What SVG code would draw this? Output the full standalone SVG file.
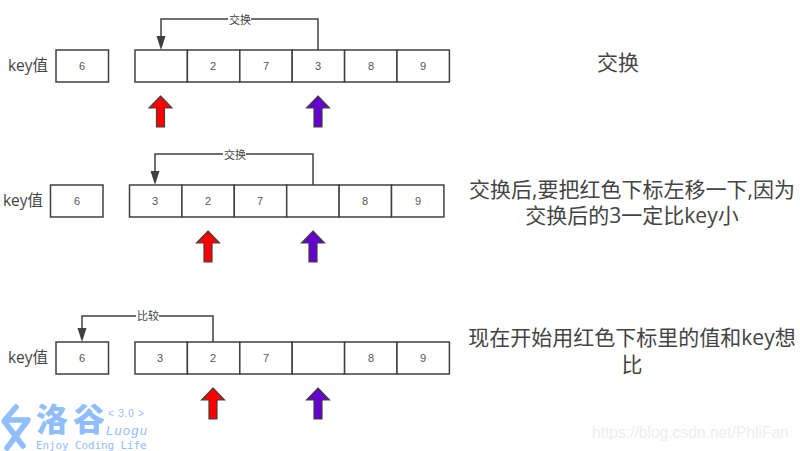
<svg xmlns="http://www.w3.org/2000/svg" width="800" height="451" viewBox="0 0 800 451">
<defs>
<style>
.cell{fill:#fff;stroke:#404040;stroke-width:1.5}
.d{font-family:"Liberation Sans","Noto Sans CJK SC",sans-serif;font-size:11px;fill:#555;text-anchor:middle}
.k{font-family:"Open Sans","Noto Sans CJK SC",sans-serif;font-size:15.500px;fill:#444;text-anchor:middle}
.cap{font-family:"Open Sans","Noto Sans CJK SC",sans-serif;font-size:21px;fill:#444;text-anchor:middle}
.lab{font-family:"Noto Sans CJK SC",sans-serif;font-size:11px;fill:#444;text-anchor:middle}
.con{fill:none;stroke:#404040;stroke-width:1.5}
.up{stroke:#404040;stroke-width:1.2}
.lt{font-family:"DejaVu Sans Mono",monospace;fill:#90bdfb}
</style>
<path id="arrow" d="M0 0L11.500 12L4 12L4 31L-4 31L-4 12L-11.500 12Z"/>
</defs>
<rect width="800" height="451" fill="#fff"/>
<g id="connectors">
<path class="con" d="M318 50V19H161V38"/><path d="M156.500 36H165.500L161 50Z" fill="#404040"/>
<path class="con" d="M313 185V154H155V173"/><path d="M150.500 171H159.500L155 185Z" fill="#404040"/>
<path class="con" d="M213 342V316H82V330"/><path d="M77.500 328H86.500L82 342Z" fill="#404040"/>
</g>
<g id="label-swap-1"><rect x="228" y="13" width="23" height="13" fill="#fff"/><text class="lab" x="240" y="24">交换</text></g>
<g id="label-swap-2"><rect x="223" y="148" width="23" height="13" fill="#fff"/><text class="lab" x="235" y="159">交换</text></g>
<g id="label-compare"><rect x="136" y="310" width="23" height="13" fill="#fff"/><text class="lab" x="148" y="320">比较</text></g>

<g id="row1">
<text class="k" x="28" y="71">key值</text>
<g id="r1-key"><rect class="cell" x="56" y="50" width="52.500" height="32"/><text class="d" x="82" y="70">6</text></g>
<g id="r1-c1"><rect class="cell" x="135" y="50" width="52.400" height="32"/></g>
<g id="r1-c2"><rect class="cell" x="187.400" y="50" width="52.400" height="32"/><text class="d" x="213" y="70">2</text></g>
<g id="r1-c3"><rect class="cell" x="239.800" y="50" width="52.400" height="32"/><text class="d" x="266" y="70">7</text></g>
<g id="r1-c4"><rect class="cell" x="292.200" y="50" width="52.400" height="32"/><text class="d" x="318" y="70">3</text></g>
<g id="r1-c5"><rect class="cell" x="344.600" y="50" width="52.400" height="32"/><text class="d" x="371" y="70">8</text></g>
<g id="r1-c6"><rect class="cell" x="397" y="50" width="52.400" height="32"/><text class="d" x="423" y="70">9</text></g>
<use class="up" href="#arrow" x="160.500" y="96" fill="#ff0000"/>
<use class="up" href="#arrow" x="318" y="96" fill="#6600cc"/>
</g>

<g id="row2">
<text class="k" x="23" y="206">key值</text>
<g id="r2-key"><rect class="cell" x="50.500" y="185" width="52.500" height="32"/><text class="d" x="77" y="205">6</text></g>
<g id="r2-c1"><rect class="cell" x="129.500" y="185" width="52.400" height="32"/><text class="d" x="155" y="205">3</text></g>
<g id="r2-c2"><rect class="cell" x="181.900" y="185" width="52.400" height="32"/><text class="d" x="208" y="205">2</text></g>
<g id="r2-c3"><rect class="cell" x="234.300" y="185" width="52.400" height="32"/><text class="d" x="260" y="205">7</text></g>
<g id="r2-c4"><rect class="cell" x="286.700" y="185" width="52.400" height="32"/></g>
<g id="r2-c5"><rect class="cell" x="339.100" y="185" width="52.400" height="32"/><text class="d" x="365" y="205">8</text></g>
<g id="r2-c6"><rect class="cell" x="391.500" y="185" width="52.400" height="32"/><text class="d" x="418" y="205">9</text></g>
<use class="up" href="#arrow" x="208" y="231" fill="#ff0000"/>
<use class="up" href="#arrow" x="313" y="231" fill="#6600cc"/>
</g>

<g id="row3">
<text class="k" x="28" y="363">key值</text>
<g id="r3-key"><rect class="cell" x="56" y="342" width="52.500" height="32"/><text class="d" x="82" y="362">6</text></g>
<g id="r3-c1"><rect class="cell" x="135" y="342" width="52.400" height="32"/><text class="d" x="160" y="362">3</text></g>
<g id="r3-c2"><rect class="cell" x="187.400" y="342" width="52.400" height="32"/><text class="d" x="213" y="362">2</text></g>
<g id="r3-c3"><rect class="cell" x="239.800" y="342" width="52.400" height="32"/><text class="d" x="266" y="362">7</text></g>
<g id="r3-c4"><rect class="cell" x="292.200" y="342" width="52.400" height="32"/></g>
<g id="r3-c5"><rect class="cell" x="344.600" y="342" width="52.400" height="32"/><text class="d" x="371" y="362">8</text></g>
<g id="r3-c6"><rect class="cell" x="397" y="342" width="52.400" height="32"/><text class="d" x="423" y="362">9</text></g>
<use class="up" href="#arrow" x="213" y="388" fill="#ff0000"/>
<use class="up" href="#arrow" x="318" y="388" fill="#6600cc"/>
</g>

<g id="captions">
<text class="cap" x="618" y="70">交换</text>
<text class="cap" x="632" y="197">交换后,要把红色下标左移一下,因为</text>
<text class="cap" x="632" y="223">交换后的3一定比key小</text>
<text class="cap" x="632" y="345">现在开始用红色下标里的值和key想</text>
<text class="cap" x="632" y="372">比</text>
</g>

<g id="logo">
<path d="M16 407L4 421L23 446M28 420L7 448M7 420H26" fill="none" stroke="#90bdfb" stroke-width="5.500" stroke-linecap="round" stroke-linejoin="round"/>
<text x="36" y="431" font-family="Noto Sans CJK SC,sans-serif" font-weight="900" font-size="32" letter-spacing="5" fill="#90bdfb">洛谷</text>
<text x="108" y="417" font-family="Liberation Sans,sans-serif" font-size="10" letter-spacing="0.800" fill="#90bdfb">&lt; 3.0 &gt;</text>
<text x="106" y="435" font-family="Liberation Sans,sans-serif" font-style="italic" font-size="13" letter-spacing="1.200" fill="#90bdfb">Luogu</text>
<text class="lt" x="36" y="449" font-size="10.800">Enjoy Coding Life</text>
</g>
<text id="watermark" x="592" y="438" font-family="Liberation Sans,sans-serif" font-size="15.600" fill="#eeeeee">https://blog.csdn.net/PhliFan</text>
</svg>
